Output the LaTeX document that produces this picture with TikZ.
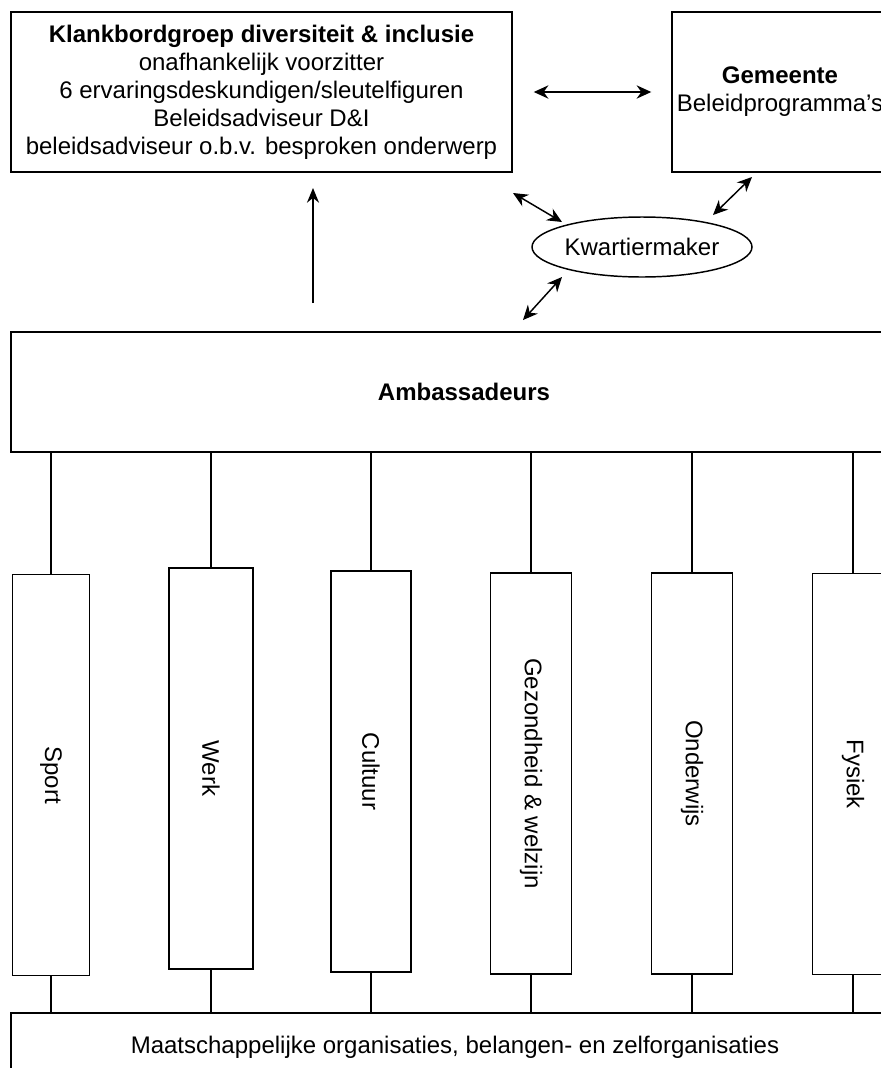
\documentclass[tikz,border=0pt]{standalone}
\usepackage{fontspec}
\setmainfont{Liberation Sans}
\usetikzlibrary{positioning,calc,shapes,arrows.meta}

\tikzset{
	blok/.style={draw, line width=1.1pt, inner sep=0pt, align=center, font=\fontsize{18}{21}\selectfont},
	kolom/.style={blok, minimum width=60pt, minimum height=300.75pt},
	lijn/.style={line width=1.1pt},
	tweepijl/.style={line width=1.1pt, {Stealth[length=11pt,width=10pt]}-{Stealth[length=11pt,width=10pt]}},
	oppijl/.style={line width=1.1pt, -{Stealth[length=11pt,width=9pt]}},
}

\begin{document}
\begin{tikzpicture}[x=0.75pt, y=-0.75pt]
				\useasboundingbox (0,0) rectangle (881,1068);
				\clip (0,0) rectangle (881,1068);
				\node[blok, minimum width=375.75pt, minimum height=120pt] (klank) at (261.5,92) {\textbf{Klankbordgroep diversiteit \& inclusie}\\onafhankelijk voorzitter\\6 ervaringsdeskundigen/sleutelfiguren\\Beleidsadviseur D\&I\\beleidsadviseur o.b.v. besproken onderwerp};
				\node[blok, minimum width=162pt, minimum height=120pt] (gem) at (780,92) {\textbf{Gemeente}\\Beleidprogramma's};
				\node[blok, ellipse, minimum width=165pt, minimum height=45pt] (kwm) at (642,247) {Kwartiermaker};
				\node[blok, minimum width=679.5pt, minimum height=90pt] (amb) at (464,392) {\textbf{Ambassadeurs}};
				\node[blok, minimum width=666pt, minimum height=51pt] (org) at (455,1047) {Maatschappelijke organisaties, belangen- en zelforganisaties};
				\foreach \x/\y/\b/\naam/\tekst in {51/775/58/sport/Sport, 211/768.5/63/werk/Werk, 371/771.5/60/cultuur/Cultuur, 531/773.5/61/gezond/Gezondheid \& welzijn, 692/773.5/61/onderwijs/Onderwijs, 853/774/61/fysiek/Fysiek}{
					\node[kolom, minimum width=\b pt] (\naam) at (\x,\y) {};
					\node[rotate=-90, font=\fontsize{18}{21}\selectfont] (\naam-t) at (\naam) {\tekst};
					\draw[lijn] (amb.south -| \naam.north) -- (\naam.north);
					\draw[lijn] (\naam.south) -- (\naam.south |- org.north);
				}
				\coordinate (op-van) at (313,303);
				\coordinate (op-naar) at (313,188);
				\draw[oppijl] (op-van) -- (op-naar);
				\draw[tweepijl] ($(klank.east)+(21,0)$) coordinate (kg-a) -- ($(gem.west)+(-20,0)$) coordinate (kg-b);
				\coordinate (kk-a) at (513,193);
				\coordinate (kk-b) at (562,222);
				\coordinate (kg2-a) at (713,215);
				\coordinate (kg2-b) at (752,177);
				\coordinate (ka-a) at (562,277);
				\coordinate (ka-b) at (523,320);
				\draw[tweepijl] (kk-a) -- (kk-b);
				\draw[tweepijl] (kg2-a) -- (kg2-b);
				\draw[tweepijl] (ka-a) -- (ka-b);
			\end{tikzpicture}
\end{document}
